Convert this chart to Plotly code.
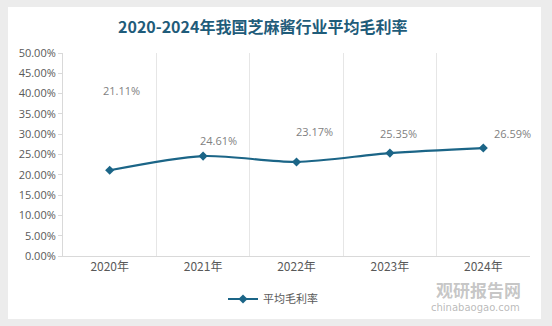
import plotly.graph_objects as go

years = ["2020年", "2021年", "2022年", "2023年", "2024年"]
margin_rate = [21.11, 24.61, 23.17, 25.35, 26.59]
label_text = ["21.11%", "24.61%", "23.17%", "25.35%", "26.59%"]
label_dy = [80, 16, 30, 20, 15]
label_dx = [12, 15, 18, 9, 29]
y_ticks = [i * 5 for i in range(11)]
y_tick_text = [f"{v:.2f}%" for v in y_ticks]

line_color = "#1b6587"

fig = go.Figure()
fig.add_trace(go.Scatter(
    x=years, y=margin_rate, mode="lines+markers", name="平均毛利率",
    line=dict(color=line_color, width=2.2, shape="spline", smoothing=0.8),
    marker=dict(symbol="diamond", size=7, color=line_color),
))

for x, y, t, dy, dx in zip(years, margin_rate, label_text, label_dy, label_dx):
    fig.add_annotation(x=x, y=y, text=t, showarrow=False, yshift=dy, xshift=dx,
                       font=dict(size=11, color="#7f7f7f", family="Open Sans, sans-serif"))

L, R, T, B, W, H = 63, 22, 53, 70, 552, 326
pw, ph = W - L - R, H - T - B
def px(x): return (x - L) / pw
def py(y): return (H - B - y) / ph

fig.add_shape(type="rect", xref="paper", yref="paper",
              x0=px(8), x1=px(541), y0=py(319), y1=py(7),
              fillcolor="white", line=dict(width=0), layer="below")

fig.add_annotation(xref="paper", yref="paper", x=px(262), y=py(26), yanchor="middle",
                   text="<b>2020-2024年我国芝麻酱行业平均毛利率</b>",
                   showarrow=False, font=dict(size=16, color="#1f5c7a", family="Noto Sans CJK SC"))

fig.add_annotation(xref="paper", yref="paper", x=px(478), y=py(289), yanchor="middle", text="<b>观研报告网</b>",
                   showarrow=False, xanchor="center",
                   font=dict(size=17, color="rgba(150,150,150,0.55)", family="Noto Sans CJK SC"))
fig.add_annotation(xref="paper", yref="paper", x=px(475), y=py(307), yanchor="middle", text="chinabaogao.com",
                   showarrow=False, xanchor="center",
                   font=dict(size=10, color="rgba(140,140,140,0.6)", family="DejaVu Sans"))

fig.update_layout(
    width=W, height=H, margin=dict(l=L, r=R, t=T, b=B),
    paper_bgcolor="#ececec", plot_bgcolor="#f1f1f1",
    showlegend=True,
    legend=dict(orientation="h", x=px(273), y=py(299), xanchor="center", yanchor="middle",
                font=dict(size=11, color="#595959", family="Noto Sans CJK SC"), bgcolor="rgba(0,0,0,0)"),
    font=dict(family="Noto Sans CJK SC", color="#595959"),
)
fig.update_xaxes(type="category", tickson="boundaries", showgrid=True, gridcolor="#e6e6e6",
                 showline=True, linecolor="#d9d9d9", ticks="", tickfont=dict(size=12, color="#595959"),
                 range=[-0.5, 4.5])
fig.update_yaxes(range=[0, 50], tickvals=y_ticks, ticktext=y_tick_text, showgrid=False,
                 showline=True, linecolor="#d9d9d9", ticks="outside", ticklen=4, tickcolor="#d9d9d9",
                 tickfont=dict(size=11, color="#595959", family="Open Sans, sans-serif"), zeroline=False)

fig.write_html("out.html")
